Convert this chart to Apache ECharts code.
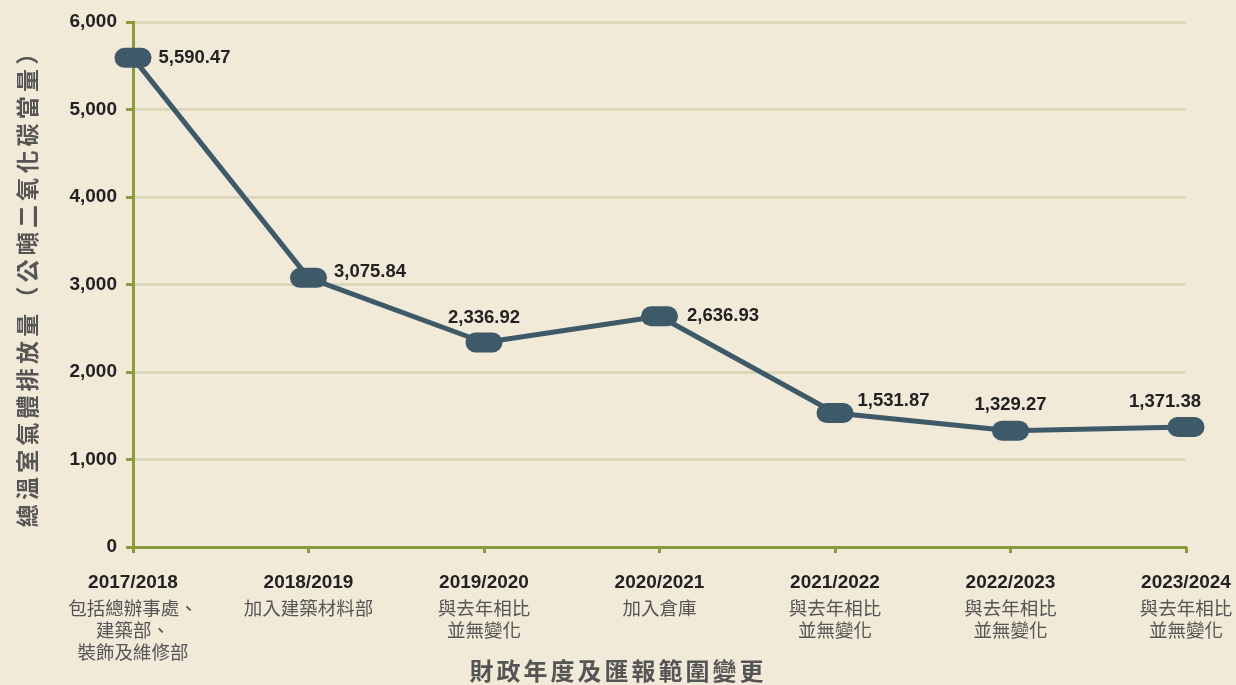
<!DOCTYPE html>
<html>
<head>
<meta charset="utf-8">
<script src="https://cdn.jsdelivr.net/npm/echarts@6/dist/echarts.min.js"></script>
<style>
html,body{margin:0;padding:0;background:#F2EAD8;}
#c{width:1236px;height:685px;}
</style>
</head>
<body>
<div id="c"></div>
<script>
var years = ['2017/2018','2018/2019','2019/2020','2020/2021','2021/2022','2022/2023','2023/2024'];
var notes = [
  ['包括總辦事處、','建築部、','裝飾及維修部'],
  ['加入建築材料部'],
  ['與去年相比','並無變化'],
  ['加入倉庫'],
  ['與去年相比','並無變化'],
  ['與去年相比','並無變化'],
  ['與去年相比','並無變化']
];
var emissions = [5590.47, 3075.84, 2336.92, 2636.93, 1531.87, 1329.27, 1371.38];
var yTicks = [0, 1000, 2000, 3000, 4000, 5000, 6000];
var yAxisName = '總溫室氣體排放量（公噸二氧化碳當量）';
var xAxisName = '財政年度及匯報範圍變更';

var labelStyles = [
  {position:'right', distance:7, offset:[0,0]},
  {position:'right', distance:7, offset:[0,-6]},
  {position:'top', distance:5, offset:[0,0]},
  {position:'right', distance:9, offset:[0,0]},
  {position:'right', distance:4, offset:[0,-12]},
  {position:'top', distance:6, offset:[0,0]},
  {position:'top', distance:6, offset:[-21,0]}
];

function fmt(v){
  var parts = v.toFixed(2).split('.');
  parts[0] = parts[0].replace(/\B(?=(\d{3})+(?!\d))/g, ',');
  return parts.join('.');
}
function spaced(str){
  return str.split('').map(function(ch){ return '{c|' + ch + '}'; }).join('');
}

var NUM_FONT = '"Liberation Sans",Arial,sans-serif';
var CJK_FONT = '"Noto Sans CJK TC","Noto Sans CJK SC",sans-serif';

var capsule = 'path://M10,0 L27,0 A10,10 0 0 1 27,20 L10,20 A10,10 0 0 1 10,0 Z';

var chart = echarts.init(document.getElementById('c'));
chart.setOption({
  backgroundColor:'#F2EAD8',
  animation:false,
  grid:{left:133, right:50, top:22, bottom:138, containLabel:false, outerBoundsMode:'none'},
  xAxis:{
    type:'category',
    data:years,
    boundaryGap:false,
    name:spaced(xAxisName),
    nameLocation:'middle',
    nameGap:112,
    nameMoveOverlap:false,
    nameTextStyle:{
      padding:[0,86,0,0],
      rich:{c:{fontFamily:CJK_FONT, fontSize:24, fontWeight:'bold', color:'#555555', padding:[0,1.5,0,1.5]}}
    },
    axisLine:{lineStyle:{color:'#8C9A3E', width:3}},
    axisTick:{show:true, alignWithLabel:true, length:6, lineStyle:{color:'#8C9A3E', width:3}},
    splitLine:{show:false},
    axisLabel:{
      interval:0,
      margin:22,
      formatter:function(v, i){
        var s = '{y|' + v + '}';
        notes[i].forEach(function(n){ s += '\n{s|' + n + '}'; });
        return s;
      },
      rich:{
        y:{fontFamily:NUM_FONT, fontSize:19, fontWeight:'bold', color:'#222222', lineHeight:28},
        s:{fontFamily:CJK_FONT, fontSize:18.5, color:'#555555', lineHeight:22}
      }
    }
  },
  yAxis:{
    type:'value',
    min:yTicks[0],
    max:yTicks[yTicks.length-1],
    interval:yTicks[1]-yTicks[0],
    name:spaced(yAxisName),
    nameLocation:'middle',
    nameGap:94,
    nameRotate:90,
    nameTextStyle:{
      rich:{c:{fontFamily:CJK_FONT, fontSize:23, fontWeight:'bold', color:'#555555', padding:[0,2.1,0,2.1]}}
    },
    axisLine:{show:true, lineStyle:{color:'#8C9A3E', width:3}},
    axisTick:{show:true, length:7, lineStyle:{color:'#8C9A3E', width:3}},
    splitLine:{show:true, lineStyle:{color:'#D8D4B4', width:2.5}},
    axisLabel:{
      margin:16,
      fontFamily:NUM_FONT, fontSize:19, fontWeight:'bold', color:'#222222',
      formatter:function(v){ return v === 0 ? '0' : v.toLocaleString('en-US'); }
    }
  },
  series:[{
    type:'line',
    data:emissions.map(function(v, i){
      var ls = labelStyles[i];
      return {value:v, label:{position:ls.position, distance:ls.distance, offset:ls.offset}};
    }),
    lineStyle:{color:'#3E5968', width:5},
    itemStyle:{color:'#3E5968'},
    symbol:capsule,
    symbolSize:[37,20],
    showAllSymbol:true,
    label:{
      show:true,
      fontFamily:NUM_FONT, fontSize:18.5, fontWeight:'bold', color:'#222222',
      formatter:function(p){ return fmt(p.value); }
    },
    z:5
  }]
});
</script>
</body>
</html>
